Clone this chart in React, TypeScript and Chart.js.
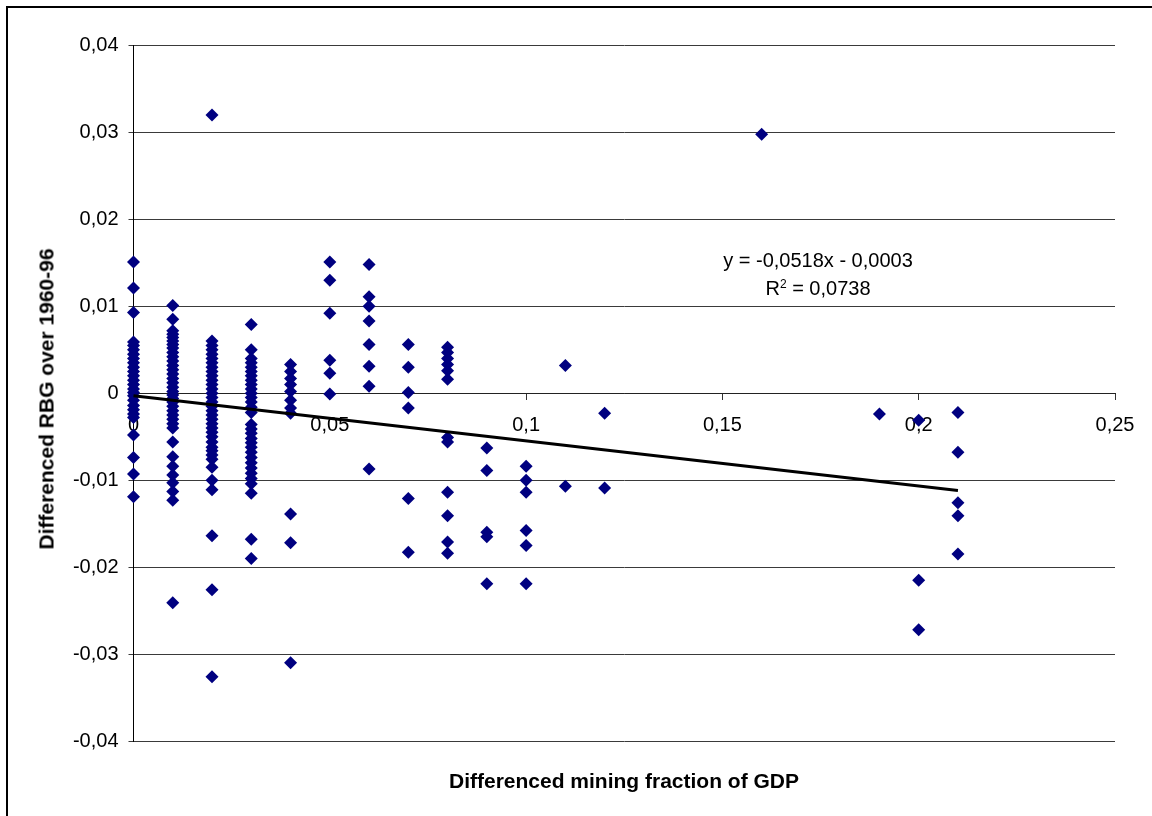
import React, { useEffect, useRef } from 'react';
import { Chart, registerables } from 'chart.js';

Chart.register(...registerables);

const xTickLabels = ['0', '0,05', '0,1', '0,15', '0,2', '0,25'];
const yTickLabels = ['-0,04', '-0,03', '-0,02', '-0,01', '0', '0,01', '0,02', '0,03', '0,04'];

const columnX = [0, 0.01, 0.02, 0.03, 0.04, 0.05, 0.06, 0.07, 0.08, 0.09, 0.1, 0.11, 0.12, 0.16, 0.19, 0.2, 0.21];

const yAt000 = [0.0151, 0.0121, 0.0093, 0.0059, 0.0055, 0.005, 0.0045, 0.004, 0.0035, 0.003, 0.0025, 0.002, 0.0015, 0.001, 0.0005, 0.0001, -0.0003, -0.0008, -0.0014, -0.0019, -0.0024, -0.0028, -0.0048, -0.0074, -0.0093, -0.0119];
const yAt001 = [0.0101, 0.0085, 0.0072, 0.0068, 0.0064, 0.006, 0.0056, 0.0052, 0.0047, 0.0042, 0.0037, 0.0032, 0.0027, 0.0022, 0.0017, 0.0012, 0.0007, 0.0002, -0.0002, -0.0006, -0.001, -0.0015, -0.002, -0.0025, -0.003, -0.0035, -0.004, -0.0056, -0.0073, -0.0084, -0.0094, -0.0103, -0.0113, -0.0123, -0.0241];
const yAt002 = [0.032, 0.006, 0.0055, 0.005, 0.0045, 0.004, 0.0035, 0.003, 0.0025, 0.002, 0.0015, 0.001, 0.0005, 0.0, -0.0005, -0.001, -0.0015, -0.002, -0.0025, -0.003, -0.0035, -0.004, -0.0045, -0.005, -0.0056, -0.0062, -0.0066, -0.0071, -0.0076, -0.0085, -0.01, -0.0111, -0.0164, -0.0226, -0.0326];
const yAt003 = [0.0079, 0.005, 0.004, 0.0035, 0.003, 0.0025, 0.002, 0.0015, 0.001, 0.0005, 0.0, -0.0005, -0.001, -0.0016, -0.0022, -0.0036, -0.0041, -0.0046, -0.0052, -0.0057, -0.0062, -0.0068, -0.0074, -0.008, -0.0086, -0.0092, -0.0098, -0.0104, -0.0115, -0.0168, -0.019];
const yAt004 = [0.0033, 0.0025, 0.0017, 0.001, 0.0002, -0.0008, -0.0017, -0.0023, -0.0139, -0.0172, -0.031];
const yAt005 = [0.0151, 0.013, 0.0092, 0.0038, 0.0023, -0.0001];
const yAt006 = [0.0148, 0.0111, 0.01, 0.0083, 0.0056, 0.0031, 0.0008, -0.0087];
const yAt007 = [0.0056, 0.003, 0.0001, -0.0017, -0.0121, -0.0183];
const yAt008 = [0.0053, 0.0047, 0.004, 0.0033, 0.0026, 0.0016, -0.0051, -0.0056, -0.0114, -0.0141, -0.0171, -0.0184];
const yAt009 = [-0.0063, -0.0089, -0.016, -0.0165, -0.0219];
const yAt010 = [-0.0084, -0.01, -0.0114, -0.0158, -0.0175, -0.0219];
const yAt011 = [0.0032, -0.0107];
const yAt012 = [-0.0023, -0.0109];
const yAt016 = [0.0298];
const yAt019 = [-0.0024];
const yAt020 = [-0.0031, -0.0215, -0.0272];
const yAt021 = [-0.0022, -0.0068, -0.0126, -0.0141, -0.0185];

const columnY = [yAt000, yAt001, yAt002, yAt003, yAt004, yAt005, yAt006, yAt007, yAt008, yAt009, yAt010, yAt011, yAt012, yAt016, yAt019, yAt020, yAt021];

const trendX = [0, 0.21];
const trendY = [-0.0003, -0.011178];

const FONT = "'Liberation Sans', Arial, sans-serif";

export default function App() {
  const canvasRef = useRef<HTMLCanvasElement | null>(null);

  useEffect(() => {
    const canvas = canvasRef.current;
    if (!canvas) return;
    const points: { x: number; y: number }[] = [];
    columnX.forEach((cx, i) => {
      columnY[i].forEach((v) => points.push({ x: cx, y: v }));
    });
    const trend = trendX.map((tx, i) => ({ x: tx, y: trendY[i] }));

    const chart = new Chart(canvas, {
      type: 'scatter',
      data: {
        datasets: [
          {
            label: 'trend',
            data: trend,
            showLine: true,
            borderColor: '#000000',
            borderWidth: 3,
            pointRadius: 0,
            order: 0,
            clip: false as any,
          },
          {
            label: 'RBG',
            data: points,
            pointStyle: 'rectRot',
            pointRadius: 6.5,
            backgroundColor: '#000080',
            borderColor: '#000080',
            borderWidth: 0,
            order: 1,
            clip: false as any,
          },
        ],
      },
      options: {
        responsive: false,
        animation: false,
        devicePixelRatio: 1,
        events: [],
        layout: { padding: { left: 0, top: 45.5, right: 37, bottom: 75 } },
        plugins: { legend: { display: false }, tooltip: { enabled: false } },
        scales: {
          x: {
            type: 'linear',
            min: 0,
            max: 0.25,
            position: { y: 0 } as any,
            ticks: {
              stepSize: 0.05,
              color: '#000',
              font: { family: FONT, size: 20 },
              padding: 14,
              maxRotation: 0,
              callback: (_v: any, i: number) => xTickLabels[i],
            },
            grid: { display: true, drawOnChartArea: false, drawTicks: true, tickLength: 6, color: '#333', lineWidth: 1 },
            border: { display: true, color: '#222', width: 1 },
          },
          y: {
            type: 'linear',
            min: -0.04,
            max: 0.04,
            position: 'left',
            afterFit: (scale: any) => {
              scale.width = 133.5;
            },
            ticks: {
              stepSize: 0.01,
              color: '#000',
              font: { family: FONT, size: 20 },
              padding: 10,
              callback: (_v: any, i: number) => yTickLabels[i],
            },
            grid: { display: true, drawOnChartArea: true, drawTicks: true, tickLength: 5, color: '#3a3a3a', lineWidth: 1 },
            border: { display: true, color: '#000', width: 1 },
          },
        },
      },
    });
    return () => chart.destroy();
  }, []);

  return (
    <div style={{ position: 'fixed', left: 0, top: 0, width: 1152, height: 816, background: '#fff', overflow: 'hidden' }}>
      <div style={{ position: 'absolute', left: 6, top: 6, width: 1200, height: 900, borderLeft: '2px solid #000', borderTop: '2px solid #000' }} />
      <canvas ref={canvasRef} width={1152} height={816} style={{ position: 'absolute', left: 0, top: 0 }} />
      <div style={{ position: 'absolute', left: 46, top: 399, transform: 'translate(-50%, -50%) rotate(-90deg)', whiteSpace: 'nowrap', fontFamily: FONT, fontWeight: 'bold', fontSize: 21, lineHeight: '21px', color: '#000' }}>
        Differenced RBG over 1960-96
      </div>
      <div style={{ position: 'absolute', left: 424, width: 400, top: 769.5, textAlign: 'center', whiteSpace: 'nowrap', fontFamily: FONT, fontWeight: 'bold', fontSize: 21, lineHeight: '21px', color: '#000' }}>
        Differenced mining fraction of GDP
      </div>
      <div style={{ position: 'absolute', left: 668, width: 300, top: 250, textAlign: 'center', whiteSpace: 'nowrap', fontFamily: FONT, fontSize: 20, lineHeight: '20px', color: '#000' }}>
        y = -0,0518x - 0,0003
      </div>
      <div style={{ position: 'absolute', left: 668, width: 300, top: 278, textAlign: 'center', whiteSpace: 'nowrap', fontFamily: FONT, fontSize: 20, lineHeight: '20px', color: '#000' }}>
        R<sup style={{ fontSize: 12, lineHeight: 0, verticalAlign: '7px' }}>2</sup> = 0,0738
      </div>
    </div>
  );
}
